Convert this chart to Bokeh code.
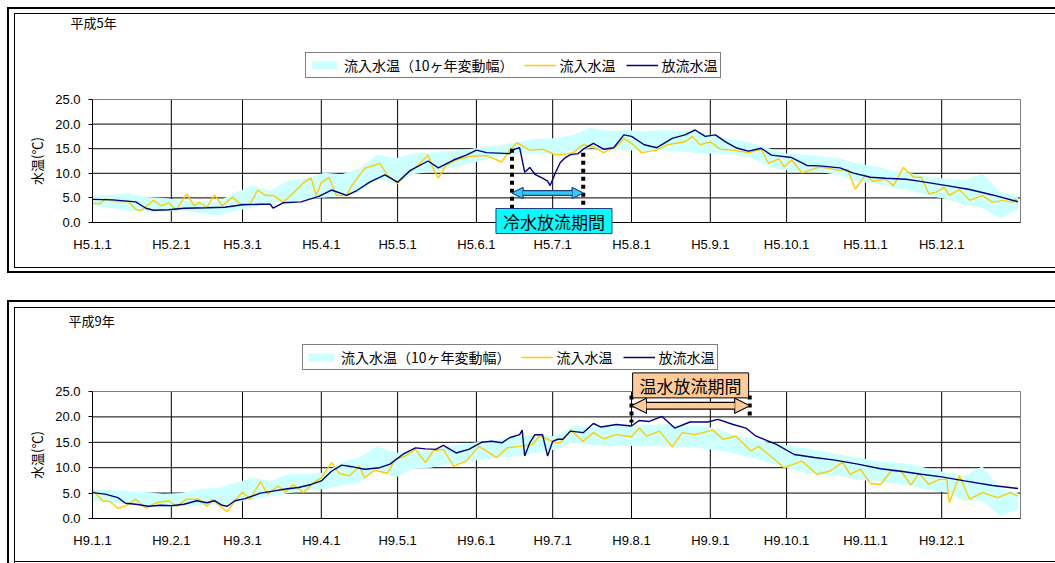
from bokeh.plotting import figure
from bokeh.layouts import column
from bokeh.models import (Range1d, FixedTicker, PrintfTickFormatter, Legend, LegendItem,
                          Label, Arrow, NormalHead)
from bokeh.embed import file_html
from bokeh.resources import INLINE

JP = "Noto Sans CJK JP"
LAT = "Liberation Sans"

# ---------------- data ----------------
month_days = [0, 31, 59, 90, 120, 151, 181, 212, 243, 273, 304, 334]
h5_month_labels = ["H5.1.1", "H5.2.1", "H5.3.1", "H5.4.1", "H5.5.1", "H5.6.1",
                   "H5.7.1", "H5.8.1", "H5.9.1", "H5.10.1", "H5.11.1", "H5.12.1"]
h9_month_labels = ["H9.1.1", "H9.2.1", "H9.3.1", "H9.4.1", "H9.5.1", "H9.6.1",
                   "H9.7.1", "H9.8.1", "H9.9.1", "H9.10.1", "H9.11.1", "H9.12.1"]
y_ticks = [0, 5, 10, 15, 20, 25]
legend_labels = ["流入水温（10ヶ年変動幅）", "流入水温", "放流水温"]

band_days = [0, 7, 14, 21, 28, 35, 42, 49, 56, 63, 70, 77, 84, 91, 98, 105, 112, 119, 126,
             133, 140, 147, 154, 161, 168, 175, 182, 189, 196, 203, 210, 217, 224, 231, 238,
             245, 252, 259, 266, 273, 280, 287, 294, 301, 308, 315, 322, 329, 336, 343, 350,
             357, 364]

# 平成5年
h5_band_hi = [5.5, 5.6, 5.9, 5.2, 5.0, 4.5, 4.3, 4.2, 6.0, 7.5, 6.5, 8.6, 9.0, 10.1, 9.8, 11.0,
              13.8, 13.0, 14.0, 14.2, 14.5, 14.8, 15.4, 15.8, 16.4, 17.0, 17.1, 17.8, 19.2, 18.6,
              18.8, 18.5, 18.8, 18.6, 18.5, 17.6, 16.8, 16.2, 15.1, 14.0, 13.8, 13.4, 13.0, 12.0,
              11.4, 10.5, 10.0, 9.2, 8.9, 8.6, 9.9, 6.2, 5.5]
h5_band_lo = [3.4, 3.0, 2.4, 2.2, 2.3, 2.4, 2.0, 1.4, 2.4, 3.0, 4.0, 4.2, 4.8, 5.1, 5.5, 6.2,
              9.0, 7.9, 9.8, 10.3, 11.0, 11.8, 12.7, 13.5, 14.0, 14.0, 13.8, 14.6, 15.1, 14.8,
              14.7, 14.6, 14.7, 14.5, 14.0, 14.0, 13.8, 13.2, 11.3, 10.6, 10.3, 10.2, 9.6, 8.2,
              8.0, 7.0, 6.5, 5.4, 4.8, 3.6, 3.0, 0.8, 2.7]

h5_in_days = [0, 3, 5, 10, 14, 17, 19, 24, 27, 30, 33, 37, 40, 42, 45, 48, 51, 55, 58, 62, 65,
              68, 71, 75, 79, 83, 86, 88, 90, 93, 96, 100, 102, 107, 113, 116, 120, 123, 128, 132,
              134, 136, 139, 143, 148, 155, 161, 164, 167, 172, 177, 182, 185, 189, 193, 197,
              201, 206, 209, 212, 216, 222, 226, 233, 236, 239, 243, 247, 252, 258, 263, 266,
              270, 272, 275, 279, 286, 294, 297, 300, 304, 307, 312, 315, 319, 323, 326, 329,
              332, 335, 337, 341, 345, 350, 354, 358, 362, 363, 364]
h5_in_vals = [4.0, 3.8, 4.8, 4.2, 4.3, 2.7, 2.4, 4.5, 3.4, 4.0, 2.5, 5.8, 3.4, 4.1, 3.1, 5.6, 3.4,
              5.1, 3.8, 3.8, 6.6, 5.5, 5.5, 4.1, 6.0, 8.1, 9.0, 5.5, 8.1, 9.2, 5.5, 5.5, 7.5, 11.0,
              12.0, 9.7, 7.9, 9.5, 11.6, 13.7, 11.0, 9.0, 11.6, 12.7, 13.4, 13.6, 12.3, 14.7,
              16.2, 14.7, 14.9, 13.8, 13.8, 14.2, 15.8, 15.4, 14.2, 15.4, 17.1, 16.1, 14.2, 14.7,
              15.8, 16.4, 17.5, 15.8, 16.4, 14.9, 14.7, 14.2, 14.9, 12.0, 13.0, 11.3, 12.7, 10.1,
              11.3, 10.6, 10.8, 6.8, 9.6, 8.4, 8.8, 7.5, 11.2, 9.2, 9.2, 5.8, 6.2, 7.2, 5.5, 6.7,
              4.5, 5.5, 4.1, 4.5, 4.1, 4.8, 4.2]

h5_out_days = [0, 8, 17, 21, 24, 30, 36, 45, 52, 59, 66, 70, 71, 75, 82, 89, 94, 100, 104, 109,
               115, 120, 125, 132, 136, 142, 147, 151, 155, 164, 166, 168, 170, 172, 174, 177,
               179, 180, 182, 184, 186, 188, 191, 193, 197, 201, 205, 209, 212, 217, 222, 228,
               233, 237, 241, 245, 249, 253, 258, 263, 267, 275, 281, 286, 294, 299, 306, 312,
               320, 325, 336, 345, 354, 364]
h5_out_vals = [4.7, 4.6, 4.2, 2.9, 2.5, 2.6, 2.9, 3.0, 3.1, 3.6, 3.7, 3.7, 2.9, 4.0, 4.2, 5.3,
               6.6, 5.5, 6.5, 8.2, 9.7, 8.2, 10.6, 12.5, 11.1, 12.7, 13.7, 14.7, 14.2, 14.0, 14.9,
               15.2, 10.2, 11.2, 9.8, 9.0, 8.4, 7.5, 10.0, 12.2, 13.2, 13.8, 14.0, 14.9, 16.1,
               14.9, 15.2, 17.8, 17.5, 15.8, 15.2, 17.1, 17.8, 18.8, 17.5, 17.8, 16.4, 15.2, 14.5,
               15.1, 13.7, 13.2, 11.6, 11.5, 11.1, 10.1, 9.2, 9.0, 8.8, 8.4, 7.5, 6.7, 5.6, 4.2]

# 平成9年
h9_band_hi = [5.8, 5.6, 5.4, 5.2, 4.8, 5.0, 5.8, 6.0, 7.0, 8.0, 7.4, 8.7, 8.8, 9.0, 11.0, 12.0,
              14.2, 12.9, 13.2, 13.3, 14.2, 14.7, 15.2, 15.6, 16.2, 16.6, 16.2, 18.2, 18.0, 18.2,
              18.2, 18.4, 18.5, 18.3, 18.2, 17.8, 16.5, 15.8, 14.9, 14.4, 13.9, 13.2, 12.6, 12.0,
              11.3, 11.0, 10.7, 9.8, 9.0, 8.4, 10.3, 5.8, 5.1]
h9_band_lo = [3.5, 3.2, 2.8, 2.6, 2.2, 2.4, 2.5, 2.8, 3.1, 3.8, 4.4, 5.0, 5.4, 5.8, 6.5, 7.1,
              9.7, 8.0, 9.8, 10.0, 10.7, 11.2, 11.6, 12.0, 12.3, 13.0, 13.6, 14.9, 14.5, 14.2,
              14.3, 14.2, 14.3, 14.1, 13.9, 13.5, 12.9, 12.0, 11.0, 10.0, 9.0, 8.6, 8.4, 7.6,
              7.4, 6.9, 6.4, 5.6, 5.1, 3.5, 3.5, 0.5, 1.8]

h9_in_days = [0, 4, 7, 10, 13, 17, 21, 25, 30, 33, 37, 42, 45, 47, 50, 53, 56, 59, 62, 66, 69,
              73, 76, 79, 83, 87, 90, 94, 97, 101, 105, 107, 111, 116, 119, 123, 127, 131, 134,
              138, 142, 147, 152, 159, 163, 168, 173, 176, 179, 182, 184, 188, 193, 197, 201,
              206, 212, 215, 218, 223, 228, 232, 237, 244, 248, 253, 259, 262, 266, 272, 279,
              285, 290, 295, 298, 302, 306, 310, 314, 318, 322, 325, 329, 333, 336, 337, 341,
              345, 350, 356, 361, 364]
h9_in_vals = [5.6, 3.5, 3.3, 2.0, 2.5, 3.8, 2.0, 3.1, 3.5, 2.4, 3.8, 3.8, 2.4, 3.8, 2.5, 1.3,
              3.5, 5.2, 3.8, 7.2, 4.8, 6.4, 5.2, 6.7, 5.1, 7.1, 8.0, 11.0, 8.9, 8.4, 10.3, 8.0,
              9.5, 8.9, 11.6, 12.3, 13.6, 11.0, 13.3, 13.6, 10.3, 11.3, 14.2, 12.0, 13.9, 14.2,
              14.6, 16.3, 15.6, 14.9, 14.9, 17.4, 15.2, 16.9, 15.7, 16.5, 16.1, 17.8, 16.2, 17.2,
              14.1, 16.9, 16.5, 17.4, 15.6, 16.2, 13.3, 14.2, 12.6, 10.0, 11.3, 8.7, 9.3, 11.1,
              8.7, 9.7, 6.9, 6.7, 9.3, 9.3, 6.6, 8.9, 6.7, 7.7, 7.7, 3.1, 8.4, 3.8, 5.1, 4.1, 5.1,
              4.4]

h9_out_days = [0, 5, 10, 13, 17, 22, 27, 31, 36, 41, 45, 48, 51, 53, 56, 60, 66, 71, 76, 81,
               86, 90, 94, 98, 102, 107, 113, 117, 122, 127, 131, 135, 138, 143, 148, 153, 157,
               161, 164, 168, 169, 170, 172, 174, 177, 179, 181, 183, 185, 188, 193, 197, 200,
               206, 212, 215, 219, 224, 229, 235, 242, 246, 252, 257, 261, 269, 276, 284, 292,
               301, 310, 318, 326, 334, 343, 354, 364]
h9_out_vals = [5.1, 4.8, 4.1, 3.0, 2.8, 2.4, 2.6, 2.5, 2.8, 3.5, 3.1, 3.5, 2.6, 2.4, 3.5, 3.9,
               5.0, 5.4, 5.8, 6.1, 6.7, 7.4, 9.3, 10.5, 10.2, 9.7, 10.0, 10.7, 12.6, 13.9, 13.7,
               13.6, 14.4, 12.9, 13.6, 15.0, 15.2, 14.9, 15.9, 16.5, 17.4, 12.3, 14.9, 16.5, 16.5,
               12.3, 15.2, 15.6, 15.6, 17.2, 16.9, 18.7, 18.0, 18.5, 18.2, 19.3, 19.1, 20.1, 17.8,
               19.0, 19.0, 19.5, 18.5, 17.8, 16.2, 14.6, 12.6, 12.0, 11.5, 10.7, 9.8, 9.3, 8.7,
               8.2, 7.4, 6.5, 5.9]

# annotation periods (days from Jan 1)
cold_period = [165, 193]
warm_period = [212, 258.5]

BAND = "#CCFFFF"
YEL = "#FFCC00"
NAVY = "#000080"
TXT = "black"

W = 1055
X0, X1 = 92, 1020          # plot area left/right in page pixels
PX_DAY = (X1 - X0) / 365.0


def make_panel(height, top_px, bottom_px, title, title_x, title_y, month_labels,
               band_lo, band_hi, in_days, in_vals, out_days, out_vals, legend_loc):
    px_deg = (bottom_px - top_px) / 25.0
    xr = Range1d(-X0 / PX_DAY, 365 + (W - X1) / PX_DAY)
    yr = Range1d(-(height - bottom_px) / px_deg, 25 + top_px / px_deg)
    p = figure(width=W, height=height, output_backend="svg", toolbar_location=None,
               x_range=xr, y_range=yr,
               min_border_left=0, min_border_right=0, min_border_top=0, min_border_bottom=0)
    p.title.visible = False
    p.background_fill_alpha = 0
    p.border_fill_alpha = 0
    p.outline_line_color = None

    # grid lines and plot-area border (from the tick lists)
    p.segment(x0=month_days[1:], y0=0, x1=month_days[1:], y1=25, line_color="black", line_width=1)
    p.segment(x0=0, y0=y_ticks[1:-1], x1=365, y1=y_ticks[1:-1], line_color="black", line_width=1)
    p.segment(x0=[0, 365], y0=[25, 0], x1=[365, 365], y1=[25, 25], line_color="#808080",
              line_width=1)

    r_band = p.varea(x=band_days, y1=band_lo, y2=band_hi, fill_color=BAND)
    r_in = p.line(in_days, in_vals, line_color=YEL, line_width=1.4)
    r_out = p.line(out_days, out_vals, line_color=NAVY, line_width=1.4)

    p.grid.visible = False

    p.xaxis.fixed_location = 0
    p.xaxis.bounds = (0, 365)
    p.xaxis.ticker = FixedTicker(ticks=month_days)
    p.xaxis.major_label_overrides = {d: lab for d, lab in zip(month_days, month_labels)}
    p.xaxis.major_label_text_font = LAT
    p.xaxis.major_label_text_font_size = "13px"
    p.xaxis.major_label_text_color = TXT
    p.xaxis.major_label_standoff = 14
    p.xaxis.major_tick_out = 0
    p.xaxis.major_tick_in = 0
    p.xaxis.minor_tick_out = 0
    p.xaxis.minor_tick_in = 0
    p.xaxis.axis_line_color = "black"

    p.yaxis.fixed_location = 0
    p.yaxis.bounds = (0, 25)
    p.yaxis.ticker = FixedTicker(ticks=y_ticks)
    p.yaxis.formatter = PrintfTickFormatter(format="%.1f")
    p.yaxis.major_label_text_font = LAT
    p.yaxis.major_label_text_font_size = "13px"
    p.yaxis.major_label_text_color = TXT
    p.yaxis.major_label_standoff = 8
    p.yaxis.major_tick_out = 4
    p.yaxis.major_tick_in = 0
    p.yaxis.major_tick_line_color = "black"
    p.yaxis.minor_tick_out = 0
    p.yaxis.minor_tick_in = 0
    p.yaxis.axis_line_color = "black"
    p.yaxis.axis_label = "水温(℃)"
    p.yaxis.axis_label_text_font = JP
    p.yaxis.axis_label_text_font_size = "13px"
    p.yaxis.axis_label_text_font_style = "normal"
    p.yaxis.axis_label_text_color = TXT
    p.yaxis.axis_label_standoff = 6

    legend = Legend(items=[LegendItem(label=legend_labels[0], renderers=[r_band]),
                           LegendItem(label=legend_labels[1], renderers=[r_in]),
                           LegendItem(label=legend_labels[2], renderers=[r_out])],
                    orientation="horizontal", location=legend_loc,
                    border_line_color="black", border_line_width=1,
                    background_fill_color="white", background_fill_alpha=1,
                    padding=2, spacing=10, margin=0, label_standoff=4,
                    label_text_font=JP, label_text_font_size="14px", label_text_color=TXT,
                    glyph_width=32, glyph_height=10, label_height=14)
    p.add_layout(legend)

    p.add_layout(Label(x=title_x, y=title_y, text=title, text_font=JP, text_font_size="13px",
                       text_color=TXT, text_baseline="middle", text_align="left"))
    return p


# top panel: page rows 0..290, plot area 99..222 ; bottom panel: rows 290..563, plot area 391..518
p1 = make_panel(290, 99, 222, "平成5年", -8.65, 40.65, h5_month_labels, h5_band_lo, h5_band_hi,
                h5_in_days, h5_in_vals, h5_out_days, h5_out_vals, (305, 212))
p2 = make_panel(273, 101, 228, "平成9年", -9.4, 39.0, h9_month_labels, h9_band_lo, h9_band_hi,
                h9_in_days, h9_in_vals, h9_out_days, h9_out_vals, (302, 193))

BOX_PAD = dict(left=7, right=7, top=0, bottom=0)

# --- cold water discharge period (H5) ---
p1.segment(x0=cold_period, y0=[15.0, 14.2], x1=cold_period, y1=[2.6, 2.6],
           line_color="black", line_width=4, line_dash="4 4")
for lw in (6, 3.5):
    p1.add_layout(Arrow(x_start=cold_period[0], y_start=6.0, x_end=cold_period[1], y_end=6.0,
                        line_color="#1F3F7F" if lw == 6 else "#33CCFF", line_width=lw,
                        start=NormalHead(size=11, fill_color="#33CCFF", line_color="#1F3F7F",
                                         line_width=1),
                        end=NormalHead(size=11, fill_color="#33CCFF", line_color="#1F3F7F",
                                       line_width=1)))
p1.add_layout(Label(x=sum(cold_period) / 2 + 2.5, y=0.3, text="冷水放流期間", text_font=JP,
                    text_font_size="17px", text_color=TXT, text_align="center",
                    text_baseline="middle",
                    background_fill_color="#00FFFF", background_fill_alpha=1,
                    border_line_color="#1F3F7F", border_line_width=1, padding=BOX_PAD))

# --- warm water discharge period (H9) ---
p2.segment(x0=warm_period, y0=[24.2, 24.2], x1=warm_period, y1=[18.9, 20.3],
           line_color="black", line_width=4, line_dash="4 4")
for lw in (8, 5.5):
    p2.add_layout(Arrow(x_start=warm_period[0], y_start=22.2, x_end=warm_period[1], y_end=22.2,
                        line_color="black" if lw == 8 else "#FFCC99", line_width=lw,
                        start=NormalHead(size=15, fill_color="#FFCC99", line_color="black",
                                         line_width=1),
                        end=NormalHead(size=15, fill_color="#FFCC99", line_color="black",
                                       line_width=1)))
p2.add_layout(Label(x=sum(warm_period) / 2, y=26.2, text="温水放流期間", text_font=JP,
                    text_font_size="17px", text_color=TXT, text_align="center",
                    text_baseline="middle",
                    background_fill_color="#FFCC99", background_fill_alpha=1,
                    border_line_color="black", border_line_width=1, padding=BOX_PAD))

# double frames around the two chart panels (drawn as page background lines)
frame_lines = [  # (x, y, w, h) in page pixels
    (7, 7, 2, 266), (7, 7, W - 7, 2), (7, 271, W - 7, 2),
    (14, 13, 1, 255), (14, 13, W - 14, 1), (14, 267, W - 14, 1),
    (7, 300, 2, 263), (7, 300, W - 7, 2),
    (14, 307, 1, 256), (14, 307, W - 14, 1), (14, 561, W - 14, 1),
]
bg = {
    "background-color": "white",
    "background-image": ", ".join(["linear-gradient(#000, #000)"] * len(frame_lines)),
    "background-size": ", ".join(f"{w}px {h}px" for x, y, w, h in frame_lines),
    "background-position": ", ".join(f"{x}px {y}px" for x, y, w, h in frame_lines),
    "background-repeat": "no-repeat",
}

layout = column(p1, p2, spacing=0, styles=bg)
open("out.html", "w").write(file_html(layout, INLINE))
